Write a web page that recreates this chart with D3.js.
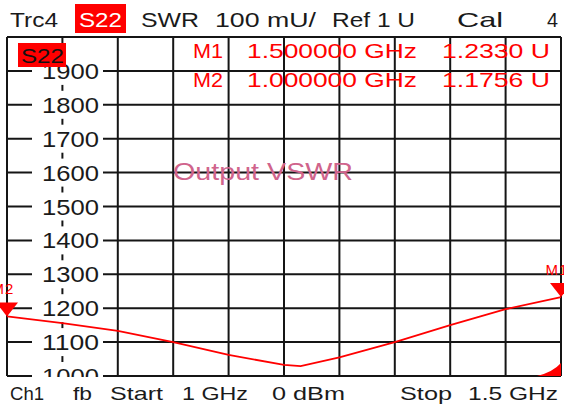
<!DOCTYPE html>
<html><head><meta charset="utf-8">
<script src="https://cdn.jsdelivr.net/npm/d3@7"></script>
<style>
html,body{margin:0;padding:0;background:#fff;}
svg{display:block;font-family:"Liberation Sans",Arial,sans-serif;}
</style></head>
<body><svg id="c" width="564" height="408"></svg>
<script>
// ---- data ----
const freqsGHz = [1.00, 1.05, 1.10, 1.15, 1.20, 1.25, 1.265, 1.30, 1.35, 1.40, 1.45, 1.50];
const swrMilliU = [1175.6, 1156, 1133, 1100, 1062, 1033, 1029, 1055, 1100, 1150, 1197, 1233];
const yTickValues = [1000, 1100, 1200, 1300, 1400, 1500, 1600, 1700, 1800, 1900];
const markerNames = ["M1", "M2"];
const markerFreqs = [1.5, 1.0];
const markerValues = [1233.0, 1175.6];
const markerFreqLabels = ["1.500000 GHz", "1.000000 GHz"];
const markerValueLabels = ["1.2330 U", "1.1756 U"];
const headerLabels = ["Trc4", "S22", "SWR", "100 mU/", "Ref 1 U", "Cal", "4"];
const footerLabels = ["Ch1", "fb", "Start", "1 GHz", "0 dBm", "Stop", "1.5 GHz"];
const traceTitle = "Output VSWR";

// ---- layout ----
const svg = d3.select("#c");
const L = 7, R = 561, T = 37, B = 376;
const x = d3.scaleLinear().domain([1.0, 1.5]).range([L, R]);
const y = d3.scaleLinear().domain([1000, 2000]).range([B, T]);
const GRID = "#151515";
const TXT = "#1a1a1a";

svg.append("defs").append("clipPath").attr("id", "plot")
  .append("rect").attr("x", L - 1).attr("y", T - 1).attr("width", R - L + 2).attr("height", B - T + 2);

function label(sel, t, px, py, size, fill, w) {
  const e = sel.append("text").attr("x", px).attr("y", py).text(t)
    .attr("font-size", size).attr("fill", fill);
  if (w) e.attr("textLength", w).attr("lengthAdjust", "spacingAndGlyphs");
  return e;
}

// header
const hdr = [
  {x: 10, w: 48}, {x: 79, w: 43}, {x: 141, w: 58}, {x: 215, w: 101},
  {x: 332, w: 83}, {x: 457, w: 46}, {x: 547, w: 11}
];
svg.append("rect").attr("x", 75).attr("y", 4).attr("width", 51).attr("height", 29).attr("fill", "#ff0000");
headerLabels.forEach((t, i) => {
  label(svg, t, hdr[i].x, 27, 21, i === 1 ? "#fff" : TXT, hdr[i].w);
});

// grid
const g = svg.append("g");
g.selectAll("line.v").data(x.ticks(10)).join("line")
  .attr("x1", d => x(d)).attr("x2", d => x(d)).attr("y1", T).attr("y2", B)
  .attr("stroke", GRID).attr("stroke-width", 2);
g.selectAll("line.h").data(y.ticks(10)).join("line")
  .attr("x1", L).attr("x2", R).attr("y1", d => y(d)).attr("y2", d => y(d))
  .attr("stroke", GRID).attr("stroke-width", 2);

// y labels on the second vertical line
const yl = svg.append("g").attr("clip-path", "url(#plot)");
yl.selectAll("rect").data(yTickValues).join("rect")
  .attr("x", 32).attr("width", 71).attr("y", d => y(d) - 14).attr("height", 28).attr("fill", "#fff");
yTickValues.forEach(d => label(yl, d, 42, y(d) + 8, 22, TXT, 57));

// S22 tag in plot
svg.append("rect").attr("x", 18).attr("y", 43).attr("width", 48).attr("height", 24).attr("fill", "#ff0000");
label(svg, "S22", 21, 63, 20, "#111", 43);

// trace title
label(svg, traceTitle, 173, 180, 23, "#d0648c", 180);

// marker table
markerNames.forEach((m, i) => {
  const by = 58 + i * 29;
  label(svg, m, 193, by, 21, "#ff0000", 30);
  label(svg, markerFreqLabels[i], 247, by, 21, "#ff0000", 170);
  label(svg, markerValueLabels[i], 442, by, 21, "#ff0000", 108);
});

// trace
const line = d3.line().x((d, i) => x(freqsGHz[i])).y(d => y(d));
svg.append("path").datum(swrMilliU).attr("d", line)
  .attr("fill", "none").attr("stroke", "#ff0000").attr("stroke-width", 1.8);

// marker triangles
markerNames.forEach((m, i) => {
  const mx = x(markerFreqs[i]), my = y(markerValues[i]);
  svg.append("path").attr("d", `M${mx - 11},${my - 14}L${mx + 11},${my - 14}L${mx},${my}Z`).attr("fill", "#ff0000");
  svg.append("text").attr("x", mx - 4).attr("y", my - 22).text(m).attr("text-anchor", "middle")
    .attr("font-size", 15).attr("fill", "#ff0000").attr("letter-spacing", 1);
});

// bottom-right indicator
svg.append("path").attr("d", `M${R - 24},${B}L${R},${B}L${R},${B - 13}Q${R - 8},${B - 4} ${R - 24},${B}Z`).attr("fill", "#ff0000");

// footer
const ftr = [
  {x: 10, w: 34}, {x: 73, w: 19}, {x: 110, w: 53}, {x: 182, w: 66},
  {x: 272, w: 73}, {x: 400, w: 52}, {x: 468, w: 90}
];
footerLabels.forEach((t, i) => label(svg, t, ftr[i].x, 400, 19, TXT, ftr[i].w));
</script></body></html>
